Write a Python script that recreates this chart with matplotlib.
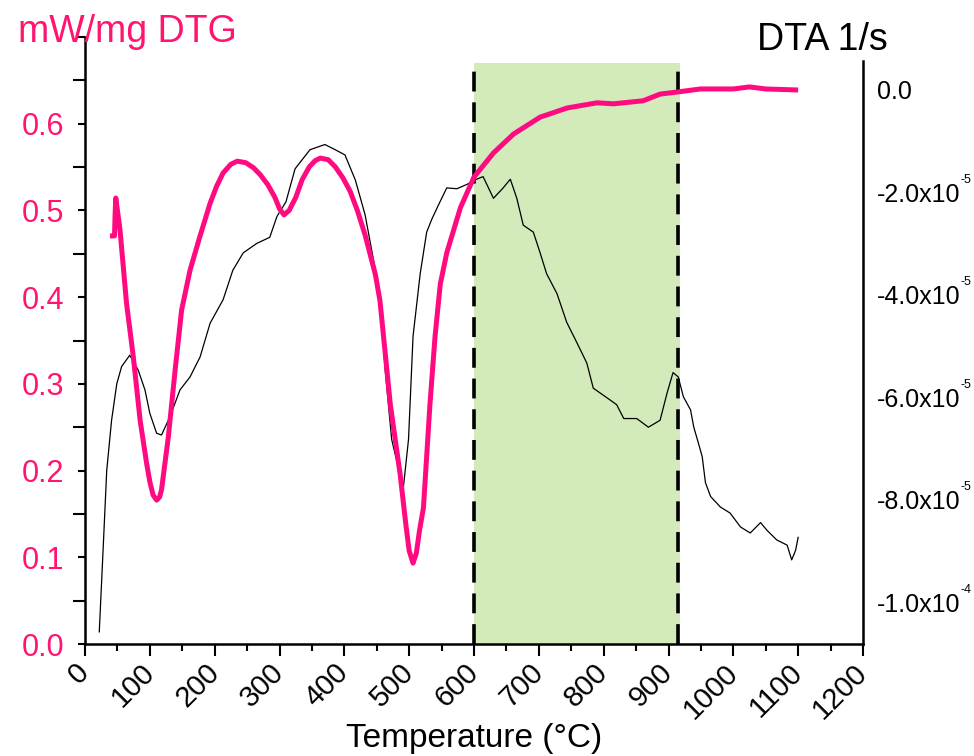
import numpy as np
import matplotlib
matplotlib.use("Agg")
import matplotlib.pyplot as plt
from matplotlib.ticker import MultipleLocator
from matplotlib.transforms import blended_transform_factory, ScaledTranslation

plt.rcParams['font.family'] = ['Liberation Sans', 'DejaVu Sans']

PINK = '#ff0a80'
PINK_TXT = '#ff1470'
GREEN = '#d3eabb'

# DTA trace (left axis, mW/mg)
t_dta = [22, 28, 33.5, 41, 49, 56.5, 69, 82, 92.5, 100, 110.5, 118, 131, 146.5,
         162, 177.5, 193, 213, 228, 244, 265, 285, 296, 310, 324, 347, 370, 386,
         401, 417, 432, 448, 455, 463, 473, 483, 491, 499, 506, 517, 527, 535,
         545, 558, 573.5, 589, 604, 614, 630, 645, 656, 666, 676, 691.5, 702,
         712, 728, 743, 759, 774, 784, 805, 820, 831, 851, 869, 887, 898, 907,
         915, 923, 934, 939, 946, 952, 957, 965, 980, 995, 1011, 1026, 1042,
         1052, 1067, 1083, 1090, 1096, 1100]
dta = [0.014, 0.11, 0.20, 0.258, 0.30, 0.32, 0.333, 0.316, 0.293, 0.266, 0.243,
       0.241, 0.262, 0.293, 0.308, 0.331, 0.370, 0.397, 0.431, 0.451, 0.462,
       0.469, 0.493, 0.51, 0.548, 0.57, 0.576, 0.57, 0.564, 0.535, 0.495, 0.431,
       0.399, 0.316, 0.236, 0.204, 0.18, 0.236, 0.355, 0.427, 0.475, 0.49,
       0.506, 0.526, 0.525, 0.53, 0.536, 0.539, 0.514, 0.526, 0.536, 0.514,
       0.483, 0.475, 0.451, 0.427, 0.404, 0.371, 0.347, 0.324, 0.295, 0.284,
       0.276, 0.26, 0.26, 0.25, 0.258, 0.29, 0.313, 0.308, 0.285, 0.27, 0.25,
       0.232, 0.216, 0.186, 0.17, 0.158, 0.151, 0.135, 0.128, 0.14, 0.131,
       0.12, 0.114, 0.097, 0.108, 0.123]

# DTG trace (right axis, 1/s), values in units of 1e-5
t_dtg = [38.5, 45.5, 46.5, 47.5, 54, 64, 74.5, 85, 95, 100, 105, 110.5, 115,
         118, 128.5, 139, 149, 162, 177, 193, 203, 213, 225, 235, 248, 260, 270,
         282, 293, 300, 307, 315, 325, 335, 346, 355, 363, 375, 386, 398, 409,
         420, 432, 448, 455, 471, 486, 495, 500, 506, 511, 516, 522, 532, 540,
         548, 558, 579, 600, 630, 661, 702, 744, 790, 815, 861, 887, 913, 949,
         1000, 1025, 1050, 1100]
dtg = [-2.85, -2.85, -2.4, -2.11, -2.73, -4.16, -5.21, -6.45, -7.29, -7.65,
       -7.91, -8.01, -7.95, -7.81, -6.78, -5.47, -4.30, -3.52, -2.87, -2.21,
       -1.88, -1.62, -1.45, -1.39, -1.42, -1.52, -1.65, -1.85, -2.1, -2.32,
       -2.44, -2.35, -2.1, -1.75, -1.5, -1.38, -1.33, -1.36, -1.5, -1.72,
       -1.98, -2.35, -2.83, -3.61, -4.12, -6.15, -7.50, -8.5, -9.0, -9.24,
       -9.05, -8.6, -8.16, -6.15, -4.80, -3.79, -3.18, -2.30, -1.70, -1.23,
       -0.86, -0.53, -0.35, -0.25, -0.27, -0.21, -0.08, -0.04, 0.02, 0.02,
       0.06, 0.02, 0.0]

zone = (600, 917)
dash_at = [600, 914]

x_ticks = list(range(0, 1201, 100))
left_ticks = [0.0, 0.1, 0.2, 0.3, 0.4, 0.5, 0.6]
right_ticks = [0.0, -2e-5, -4e-5, -6e-5, -8e-5, -1e-4]
right_labels = ['0.0', '-2.0x10', '-4.0x10', '-6.0x10', '-8.0x10', '-1.0x10']
right_exps = ['', '-5', '-5', '-5', '-5', '-4']

fig = plt.figure(figsize=(9.74, 7.56), dpi=100)
ax = fig.add_axes([85 / 974, 112 / 756, 778 / 974, 607 / 756])
ax.patch.set_visible(False)

ax.axvspan(zone[0], zone[1], ymin=0, ymax=0.957, color=GREEN, lw=0, zorder=0)
for x in dash_at:
    ax.axvline(x, ymin=0, ymax=0.957, color='black', lw=2.6,
               dashes=(5.5, 3), zorder=1)
ax.plot(t_dta, dta, color='black', lw=0.9, zorder=2)

ax.set_xlim(0, 1200)
ax.set_ylim(0, 0.70)
ax.spines['top'].set_visible(False)
ax.spines['right'].set_visible(False)
for s in ['left', 'bottom']:
    ax.spines[s].set_linewidth(1.8)

ax.set_xticks(x_ticks)
ax.set_xticklabels([str(v) for v in x_ticks], rotation=45, ha='right',
                   va='center', rotation_mode='anchor', fontsize=21)
ax.xaxis.set_minor_locator(MultipleLocator(50))
ax.tick_params(axis='x', which='major', length=8.5, width=1.5, pad=9)
ax.tick_params(axis='x', which='minor', length=5, width=1.5)

ax.set_yticks(left_ticks + [0.7])
ax.set_yticklabels([f'{v:.1f}' for v in left_ticks] + [''], fontsize=22,
                   color=PINK_TXT)
ax.yaxis.set_minor_locator(MultipleLocator(0.05))
ax.tick_params(axis='y', which='major', length=5, width=1.5, pad=10)
ax.tick_params(axis='y', which='minor', length=8.5, width=1.5)

ax2 = ax.twinx()
ax2.plot(t_dtg, np.array(dtg) * 1e-5, color=PINK, lw=3.6, zorder=3,
         solid_capstyle='butt')
ax2.set_ylim(-10.82e-5, 1.035e-5)
ax2.spines['top'].set_visible(False)
ax2.spines['left'].set_visible(False)
ax2.spines['bottom'].set_visible(False)
ax2.spines['right'].set_linewidth(1.8)
ax2.spines['right'].set_bounds(-10.82e-5, 0.57e-5)
ax2.set_yticks(right_ticks)
ax2.set_yticklabels(right_labels, fontsize=18)
ax2.tick_params(axis='y', length=0, pad=10)

# small exponents right after the last digit
base = blended_transform_factory(ax2.transAxes, ax2.transData)
exp_tr = base + ScaledTranslation(70.5 / 72, 6.8 / 72, fig.dpi_scale_trans)
for v, e in zip(right_ticks, right_exps):
    if e:
        ax2.text(1, v, e, transform=exp_tr, fontsize=9, ha='left',
                 va='baseline', clip_on=False)

fig.text(18 / 974, 1 - 42 / 756, 'mW/mg DTG', color=PINK_TXT, fontsize=27,
         ha='left', va='baseline')
fig.text(757 / 974, 1 - 50 / 756, 'DTA 1/s', color='black', fontsize=27,
         ha='left', va='baseline')
fig.text(474 / 974, 1 - 747 / 756, 'Temperature (°C)', fontsize=24,
         ha='center', va='baseline')

fig.savefig('out.png', dpi=100)
